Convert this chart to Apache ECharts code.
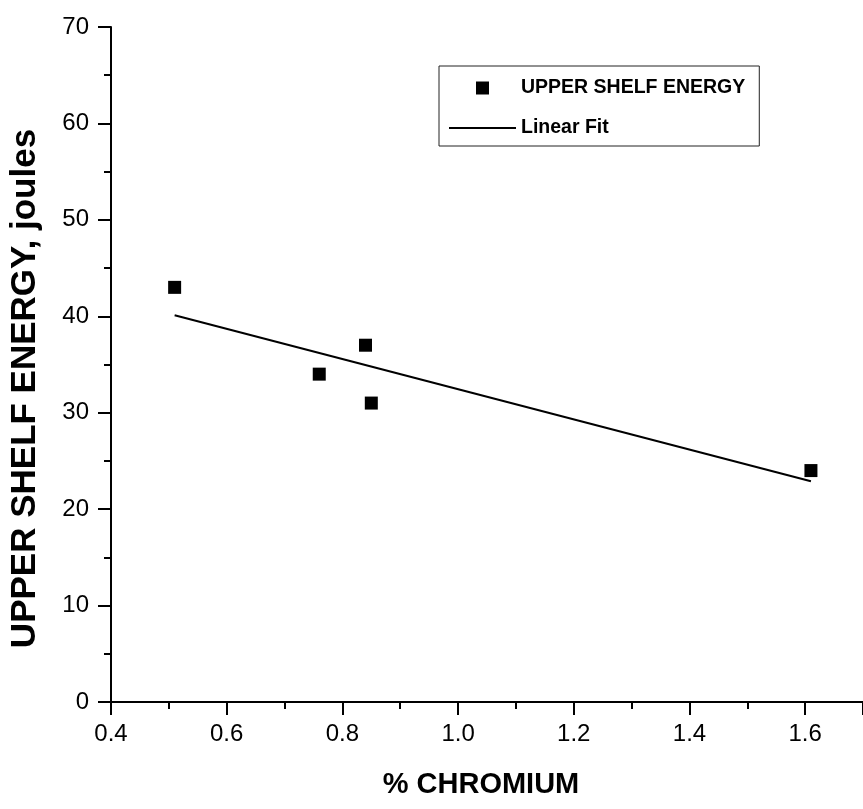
<!DOCTYPE html>
<html><head><meta charset="utf-8">
<script src="https://cdn.jsdelivr.net/npm/echarts@6/dist/echarts.min.js"></script>
<style>html,body{margin:0;padding:0;background:#fff}#c{width:863px;height:809px}</style>
</head><body><div id="c"></div>
<script>
const chromium = [0.51, 0.76, 0.84, 0.85, 1.61];
const energy = [43, 34, 37, 31, 24];
const fitX = [0.51, 1.61];
const fitY = [40.1, 22.9];
const xTickLabels = ['0.4', '0.6', '0.8', '1.0', '1.2', '1.4', '1.6'];
const yTickLabels = ['0', '10', '20', '30', '40', '50', '60', '70'];
const seriesNames = ['UPPER SHELF ENERGY', 'Linear Fit'];
const xTitle = '% CHROMIUM';
const yTitle = 'UPPER SHELF ENERGY, joules';

const FONT = "'Liberation Sans', Arial, sans-serif";
const chart = echarts.init(document.getElementById('c'), null, {renderer: 'canvas'});

function fmtX(v) {
  const s = v.toFixed(1);
  return xTickLabels.indexOf(s) >= 0 ? s : '';
}
function fmtY(v) {
  const s = String(Math.round(v));
  return yTickLabels.indexOf(s) >= 0 ? s : '';
}

const axisCommon = {
  axisLine: {show: true, onZero: false, lineStyle: {color: '#000', width: 2}},
  axisTick: {show: true, inside: false, length: 13, lineStyle: {color: '#000', width: 2}},
  minorTick: {show: true, splitNumber: 2, length: 7, lineStyle: {color: '#000', width: 2}},
  splitLine: {show: false},
  minorSplitLine: {show: false}
};

chart.setOption({
  backgroundColor: '#fff',
  animation: false,
  textStyle: {fontFamily: FONT},
  grid: {left: 108, top: 27, right: -2, bottom: 107, containLabel: false},
  xAxis: Object.assign({
    type: 'value', min: 0.4, max: 1.7, interval: 0.2,
    name: xTitle, nameLocation: 'middle', nameGap: 68,
    nameTextStyle: {fontFamily: FONT, fontSize: 29, fontWeight: 'bold', color: '#000', padding: [0, 12, 0, 0]},
    axisLabel: {formatter: fmtX, fontFamily: FONT, fontSize: 24, color: '#000', margin: 20, showMaxLabel: false}
  }, axisCommon),
  yAxis: Object.assign({
    type: 'value', min: 0, max: 70, interval: 10,
    name: yTitle, nameLocation: 'middle', nameGap: 68,
    nameTextStyle: {fontFamily: FONT, fontSize: 35, fontWeight: 'bold', color: '#000', padding: [0, 48, 0, 0]},
    axisLabel: {formatter: fmtY, fontFamily: FONT, fontSize: 24, color: '#000', margin: 22}
  }, axisCommon),
  legend: {
    left: 439, top: 66, orient: 'vertical',
    padding: [12, 14, 8, 10],
    itemWidth: 67, itemHeight: 13, itemGap: 20,
    borderColor: '#222', borderWidth: 1, borderRadius: 0,
    backgroundColor: '#fff',
    selectedMode: false,
    textStyle: {fontFamily: FONT, fontSize: 19.5, fontWeight: 'bold', color: '#000', lineHeight: 20},
    data: [
      {name: seriesNames[0], icon: 'path://M0,0L10,0L10,10L0,10Z', itemStyle: {color: '#000', opacity: 1}},
      {name: seriesNames[1], icon: 'path://M0,0L67,0L67,2L0,2Z', itemStyle: {color: '#000', opacity: 1}}
    ]
  },
  series: [
    {
      name: seriesNames[0], type: 'scatter', symbol: 'rect', symbolSize: 13,
      itemStyle: {color: '#000', opacity: 1},
      data: chromium.map((x, i) => [x, energy[i]]),
      z: 3
    },
    {
      name: seriesNames[1], type: 'line', symbol: 'none', showSymbol: false,
      lineStyle: {color: '#000', width: 2},
      itemStyle: {color: '#000'},
      data: fitX.map((x, i) => [x, fitY[i]]),
      z: 2
    }
  ]
});
</script>
</body></html>
